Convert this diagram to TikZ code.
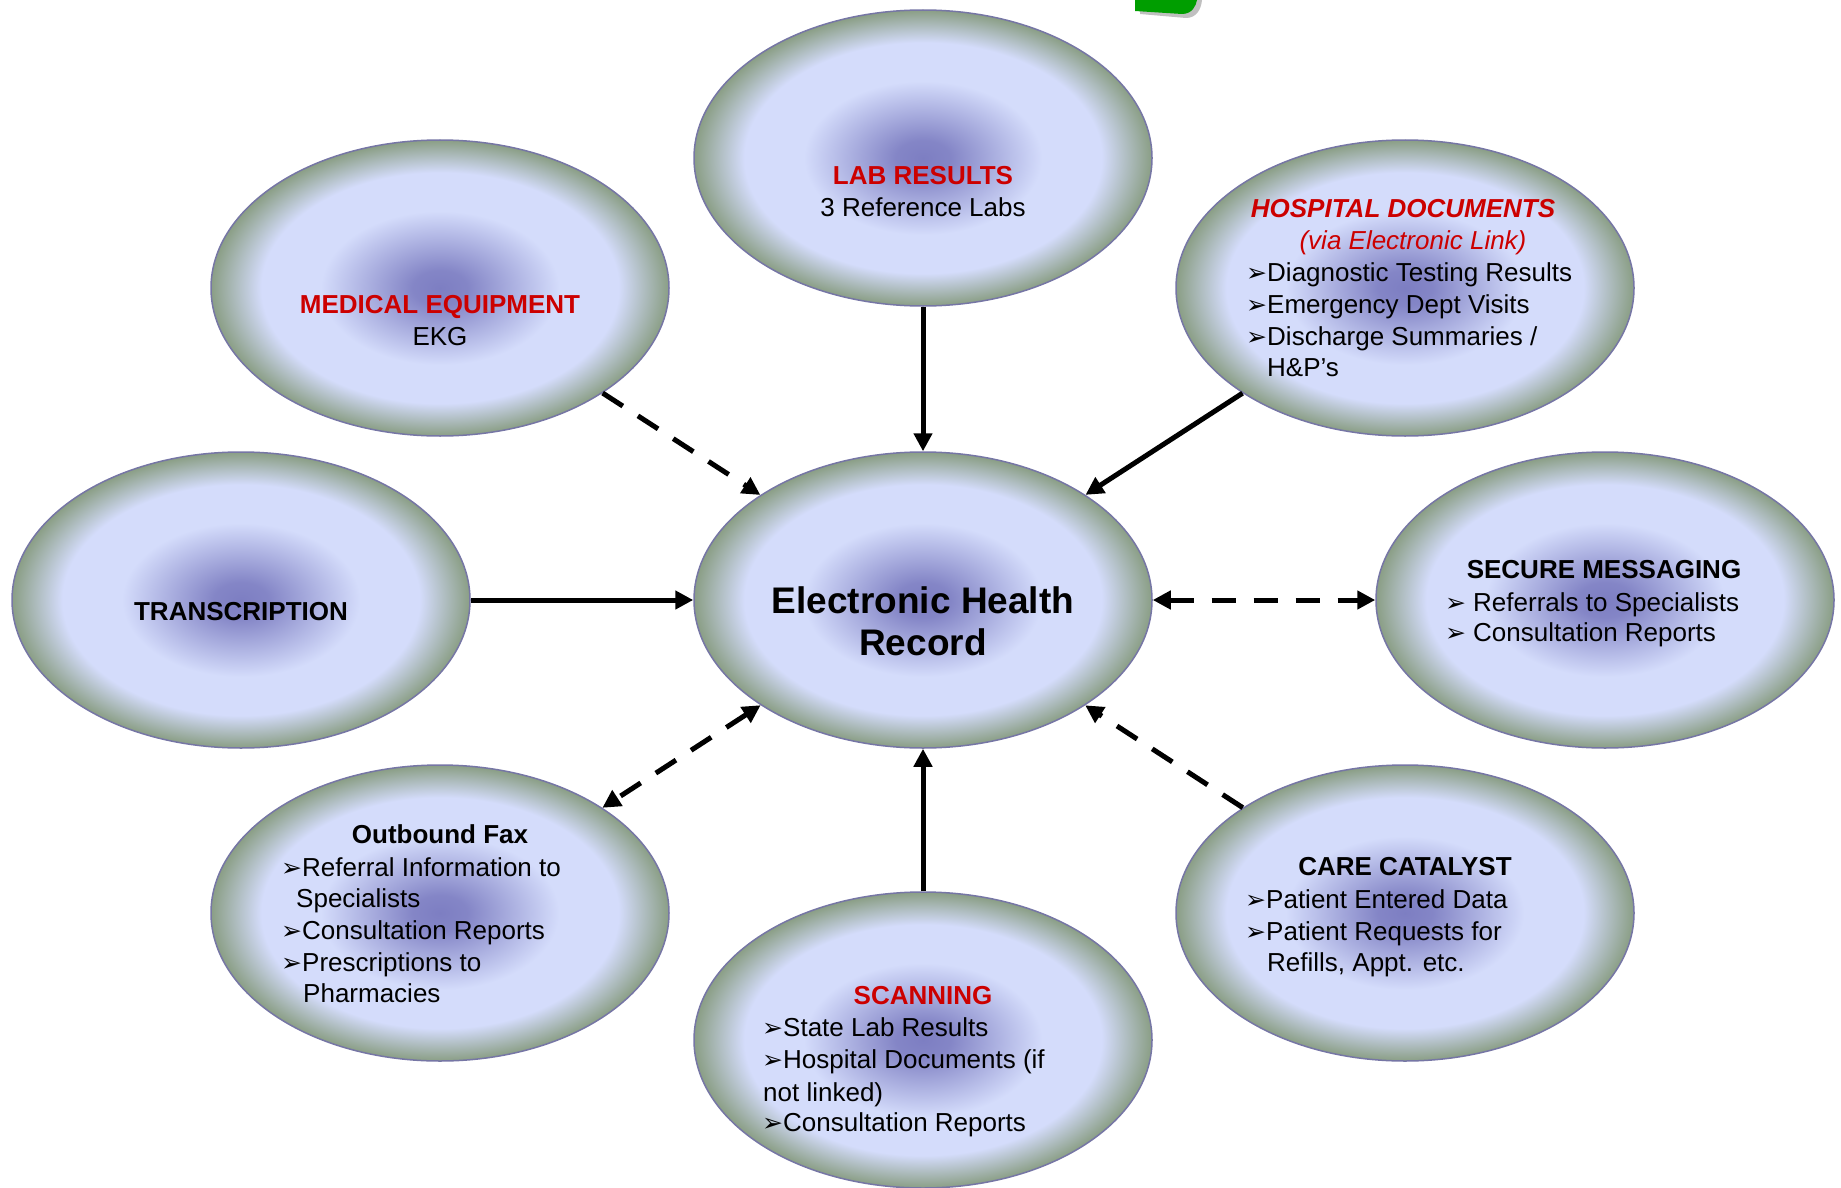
\documentclass[tikz,border=0pt]{standalone}
\usepackage{fontspec}
\setmainfont{Liberation Sans}
\newfontfamily\dvfont{DejaVu Sans}
\usetikzlibrary{arrows.meta,shapes.geometric}

\definecolor{ecen}{RGB}{125,126,194}
\definecolor{elav}{RGB}{212,220,251}
\definecolor{eedge}{RGB}{138,158,133}
\definecolor{erim}{RGB}{118,118,165}
\definecolor{tred}{RGB}{204,0,0}
\definecolor{logogreen}{RGB}{0,158,0}
\definecolor{logoshadow}{RGB}{192,192,192}
\pgfdeclareradialshading{ellshade}{\pgfpoint{0bp}{0bp}}{color(0bp)=(ecen); color(3bp)=(ecen!92!elav); color(13bp)=(elav); color(19.5bp)=(elav); color(25bp)=(eedge); color(50bp)=(eedge)}

\newcommand\bul{\makebox[20pt][l]{\hspace*{-1pt}\dvfont\fontsize{25}{25}\selectfont ➢}}
\newcommand\bulw{\makebox[27pt][l]{\hspace*{-1pt}\dvfont\fontsize{25}{25}\selectfont ➢}}

\tikzset{
  bubble/.style={ellipse, minimum width=458pt, minimum height=296pt, inner sep=0pt,
                 shading=ellshade, draw=erim, line width=1.5pt},
  txt/.style={font=\fontsize{26}{32}\selectfont, inner sep=0pt, text=black},
  ttl/.style={font=\fontsize{26}{32}\selectfont\bfseries, inner sep=0pt, anchor=base},
  ctr/.style={txt, anchor=base},
  li/.style={txt, anchor=base west},
  bigttl/.style={font=\fontsize{37}{42}\selectfont\bfseries, inner sep=0pt, anchor=base},
  link/.style={line width=5pt, -{Triangle[length=18pt,width=18pt]}},
  dlink/.style={link, dash pattern=on 24pt off 18pt},
  both/.style={{Triangle[length=18pt,width=18pt]}-{Triangle[length=18pt,width=18pt]}}
}

\begin{document}
\begin{tikzpicture}[x=1pt,y=-1pt]
\useasboundingbox (0,0) rectangle (1841,1188);
\fill[white] (0,0) rectangle (1841,1188);

% partial logo at top edge
\fill[logoshadow] (1140,0) -- (1140,14) -- (1186,18) .. controls (1196,18) and (1201,10) .. (1202,0) -- cycle;
\fill[logogreen] (1135,0) -- (1135,11) -- (1182,14) .. controls (1192,14) and (1196,6) .. (1197,0) -- cycle;

% bubbles
\node[bubble] (lab)   at (923,158)  {};
\node[bubble] (med)   at (440,288)  {};
\node[bubble] (hosp)  at (1405,288) {};
\node[bubble] (trans) at (241,600)  {};
\node[bubble] (ehr)   at (923,600)  {};
\node[bubble] (sec)   at (1605,600) {};
\node[bubble] (fax)   at (440,913)  {};
\node[bubble] (scan)  at (923,1040) {};
\node[bubble] (care)  at (1405,913) {};

% connectors
\draw[link]  (lab)   -- (ehr);
\draw[dlink] (med)   -- (ehr);
\draw[link]  (hosp)  -- (ehr);
\draw[link]  (trans) -- (ehr);
\draw[dlink, both] (ehr) -- (sec);
\draw[dlink, both] (ehr) -- (fax);
\draw[link]  (scan)  -- (ehr);
\draw[dlink] (care)  -- (ehr);

% LAB RESULTS
\node[ttl, text=tred] (labT) at (923,184) {LAB RESULTS};
\node[ctr] (labL) at (923,216) {3 Reference Labs};

% MEDICAL EQUIPMENT
\node[ttl, text=tred] (medT) at (440,313.5) {MEDICAL EQUIPMENT};
\node[ctr] (medL) at (440,345.5) {EKG};

% HOSPITAL DOCUMENTS
\node[ttl, text=tred, font=\fontsize{26}{32}\selectfont\bfseries\itshape] (hospT) at (1403,217.5) {HOSPITAL DOCUMENTS};
\node[ctr, text=tred, font=\fontsize{26}{32}\selectfont\itshape] (hospS) at (1413,249.5) {(via Electronic Link)};
\node[li] (hosp1) at (1247,281.5) {\bul Diagnostic Testing Results};
\node[li] (hosp2) at (1247,313.5) {\bul Emergency Dept Visits};
\node[li] (hosp3) at (1247,345.5) {\bul Discharge Summaries /};
\node[li] (hosp4) at (1267,376.5) {H\&P’s};

% TRANSCRIPTION
\node[ttl] (transT) at (241,620.5) {TRANSCRIPTION};

% EHR
\node[bigttl] (ehrT1) at (923,613) {Electronic Health};
\node[bigttl] (ehrT2) at (923,655) {Record};

% SECURE MESSAGING
\node[ttl] (secT) at (1604,578.5) {SECURE MESSAGING};
\node[li] (sec1) at (1446,611.5) {\bulw Referrals to Specialists};
\node[li] (sec2) at (1446,641.5) {\bulw Consultation Reports};

% OUTBOUND FAX
\node[ttl] (faxT) at (440,843.5) {Outbound Fax};
\node[li] (fax1) at (282,876.5) {\bul Referral Information to};
\node[li] (fax2) at (296,907.5) {Specialists};
\node[li] (fax3) at (282,939.5) {\bul Consultation Reports};
\node[li] (fax4) at (282,971.5) {\bul Prescriptions to};
\node[li] (fax5) at (303,1002.5) {Pharmacies};

% SCANNING
\node[ttl, text=tred] (scanT) at (923,1004.5) {SCANNING};
\node[li] (scan1) at (763,1036.5) {\bul State Lab Results};
\node[li] (scan2) at (763,1068.5) {\bul Hospital Documents (if};
\node[li] (scan3) at (763,1101.5) {not linked)};
\node[li] (scan4) at (763,1131.5) {\bul Consultation Reports};

% CARE CATALYST
\node[ttl] (careT) at (1405,875.5) {CARE CATALYST};
\node[li] (care1) at (1246,908.5) {\bul Patient Entered Data};
\node[li] (care2) at (1246,940.5) {\bul Patient Requests for};
\node[li] (care3) at (1267,971.5) {Refills, Appt. etc.};
\end{tikzpicture}
\end{document}
